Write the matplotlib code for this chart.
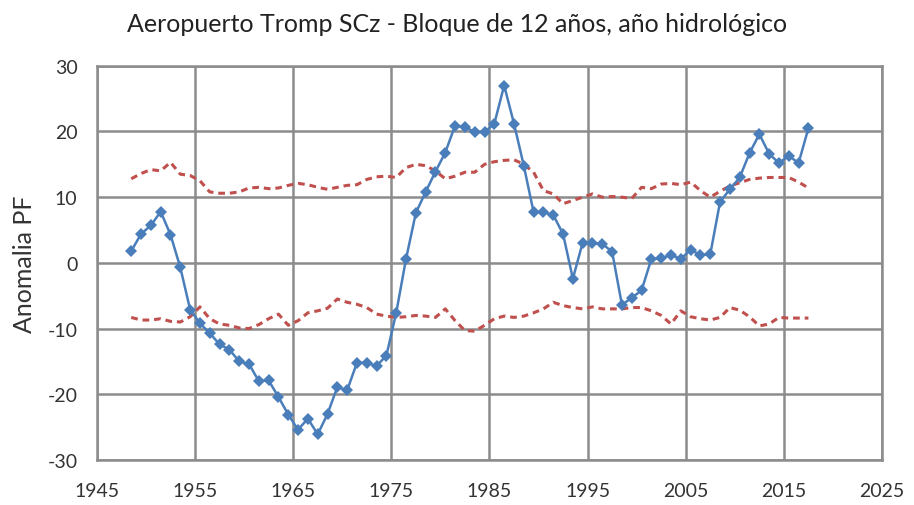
import numpy as np
import matplotlib.pyplot as plt

years = np.arange(1948, 2018) + 0.5

anomalia = [1.8, 4.4, 5.7, 7.8, 4.3, -0.7, -7.1, -9.2, -10.7, -12.4,
            -13.2, -15.0, -15.4, -18.0, -17.9, -20.4, -23.1, -25.4, -23.7, -26.1,
            -23.0, -18.9, -19.4, -15.2, -15.2, -15.7, -14.1, -7.6, 0.6, 7.6,
            10.8, 13.9, 16.8, 20.9, 20.7, 19.9, 19.9, 21.2, 27.0, 21.2,
            14.8, 7.7, 7.7, 7.3, 4.4, -2.4, 3.1, 3.0, 2.9, 1.7,
            -6.4, -5.3, -4.2, 0.6, 0.7, 1.2, 0.6, 2.0, 1.2, 1.3,
            9.3, 11.2, 13.0, 16.7, 19.6, 16.6, 15.2, 16.3, 15.2, 20.5]

limite_sup = [12.8, 13.6, 14.2, 14.0, 15.3, 13.5, 13.3, 12.5, 10.8, 10.6,
              10.6, 10.8, 11.4, 11.5, 11.3, 11.4, 11.8, 12.1, 11.9, 11.5,
              11.2, 11.5, 11.8, 11.9, 12.7, 13.1, 13.2, 13.0, 14.5, 15.0,
              14.8, 14.0, 12.8, 13.2, 13.8, 13.8, 15.0, 15.4, 15.6, 15.7,
              15.0, 13.8, 11.0, 10.5, 9.0, 9.5, 10.0, 10.5, 10.0, 10.1,
              10.0, 9.8, 11.5, 11.3, 12.0, 12.1, 11.9, 12.3, 11.0, 10.0,
              10.9, 11.7, 12.2, 12.7, 12.9, 13.0, 13.0, 13.0, 12.3, 11.4]

limite_inf = [-8.3, -8.7, -8.7, -8.5, -8.9, -9.0, -8.2, -6.7, -8.5, -9.3,
              -9.5, -9.9, -10.0, -9.4, -8.5, -7.8, -9.5, -8.8, -7.6, -7.3,
              -6.9, -5.5, -6.0, -6.3, -6.8, -7.8, -8.1, -8.3, -8.2, -8.0,
              -8.1, -8.3, -7.0, -8.8, -10.3, -10.4, -9.5, -8.5, -8.1, -8.3,
              -8.1, -7.6, -7.0, -6.0, -6.5, -6.8, -7.0, -6.7, -7.0, -7.0,
              -7.0, -6.8, -6.8, -7.3, -8.0, -9.3, -7.3, -8.2, -8.5, -8.7,
              -8.3, -6.8, -7.2, -8.2, -9.6, -9.3, -8.3, -8.4, -8.4, -8.4]

plt.rcParams['font.family'] = ['Lato', 'DejaVu Sans']
plt.rcParams['axes.unicode_minus'] = False

fig = plt.figure(figsize=(9.14, 5.06), dpi=100)
ax = fig.add_axes([0.106, 0.089, 0.859, 0.779])

ax.plot(years, limite_sup, color='#c0504d', linestyle=(0, (2.2, 1.6)), linewidth=2.2)
ax.plot(years, limite_inf, color='#c0504d', linestyle=(0, (2.2, 1.6)), linewidth=2.2)
ax.plot(years, anomalia, color='#4a7ebb', linewidth=1.8, marker='D',
        markersize=6.5, markeredgewidth=0)

ax.set_xlim(1945, 2025)
ax.set_ylim(-30, 30)
ax.set_xticks(range(1945, 2026, 10))
ax.set_yticks(range(-30, 31, 10))
ax.grid(True, color='#8c8c8c', linewidth=1.8)
ax.set_axisbelow(True)
for s in ax.spines.values():
    s.set_color('#8c8c8c')
    s.set_linewidth(1.8)
ax.tick_params(length=0, labelsize=14, colors='#333333')
ax.tick_params(axis='x', pad=16)
ax.tick_params(axis='y', pad=14)

ax.set_ylabel('Anomalia PF', fontsize=18, color='#333333', labelpad=8)
fig.suptitle('Aeropuerto Tromp SCz - Bloque de 12 años, año hidrológico',
             fontsize=18, color='#222222', y=0.975)

fig.savefig('out.png', dpi=100)
